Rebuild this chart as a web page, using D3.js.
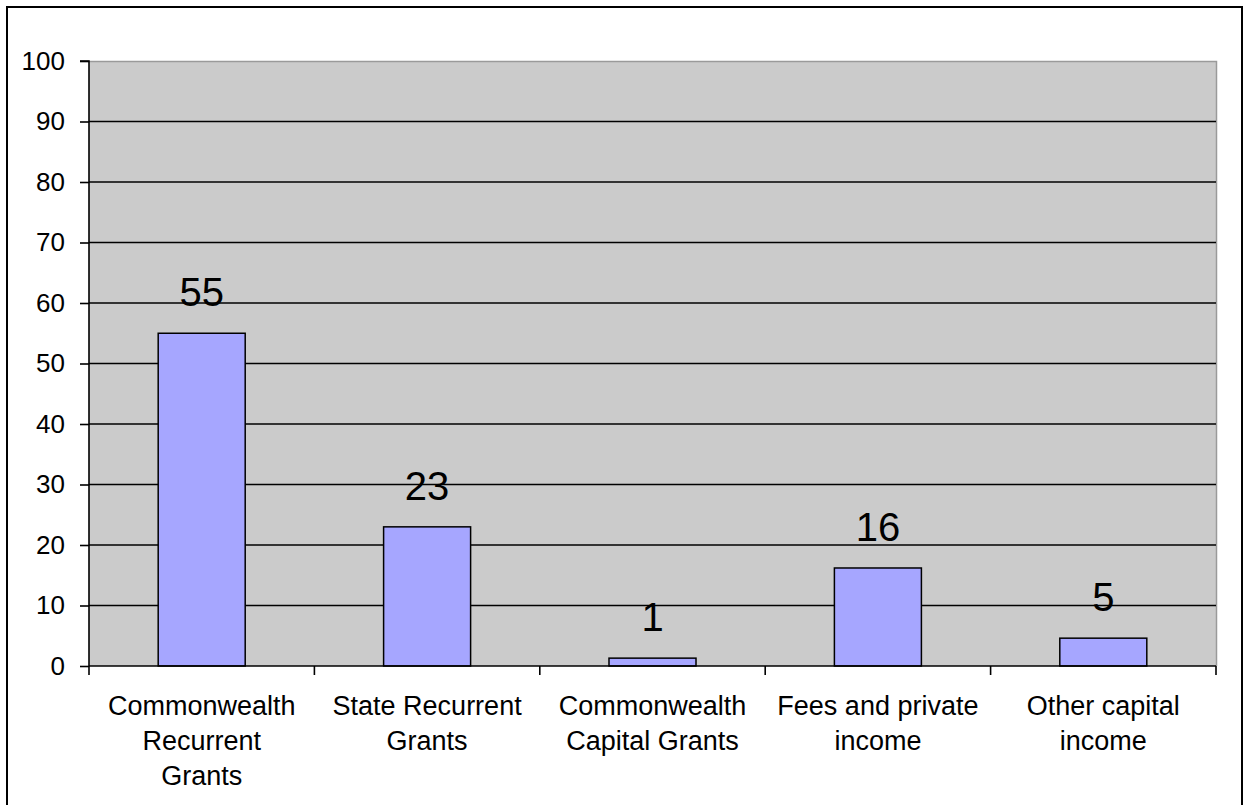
<!DOCTYPE html>
<html>
<head>
<meta charset="utf-8">
<script src="https://cdn.jsdelivr.net/npm/d3@7"></script>
<style>
  html, body { margin: 0; padding: 0; background: #fff; }
  svg { display: block; }
  text { font-family: "Liberation Sans", Arial, sans-serif; fill: #000; }
</style>
</head>
<body>
<svg id="chart" width="1245" height="805"></svg>
<script>
const categories = [
  ["Commonwealth", "Recurrent", "Grants"],
  ["State Recurrent", "Grants"],
  ["Commonwealth", "Capital Grants"],
  ["Fees and private", "income"],
  ["Other capital", "income"]
];
const values = [55, 23, 1.3, 16.2, 4.6];
const valueLabels = ["55", "23", "1", "16", "5"];
const yTicks = [0, 10, 20, 30, 40, 50, 60, 70, 80, 90, 100];

const svg = d3.select("#chart");
const plot = { left: 89, top: 61, right: 1216, bottom: 666 };

// outer frame
svg.append("rect")
  .attr("x", 7).attr("y", 7)
  .attr("width", 1235).attr("height", 810)
  .attr("fill", "#fff").attr("stroke", "#000").attr("stroke-width", 2);

const x = d3.scaleBand()
  .domain(d3.range(categories.length))
  .range([plot.left, plot.right])
  .padding(0);

const y = d3.scaleLinear()
  .domain([0, 100])
  .range([plot.bottom, plot.top]);

// plot background
svg.append("rect")
  .attr("x", plot.left).attr("y", plot.top)
  .attr("width", plot.right - plot.left).attr("height", plot.bottom - plot.top)
  .attr("fill", "#cbcbcb");

// top and right gray border
svg.append("path")
  .attr("d", `M${plot.left},${plot.top + 0.5}H${plot.right + 0.5}V${plot.bottom}`)
  .attr("fill", "none").attr("stroke", "#9a9a9a").attr("stroke-width", 1.5);

// gridlines
svg.append("g")
  .selectAll("line")
  .data(yTicks.filter(t => t > 0 && t < 100))
  .join("line")
  .attr("x1", plot.left).attr("x2", plot.right)
  .attr("y1", d => y(d)).attr("y2", d => y(d))
  .attr("stroke", "#000").attr("stroke-width", 1.6);

// bars
const barRatio = 0.386;
const bw = x.bandwidth() * barRatio;
svg.append("g")
  .selectAll("rect")
  .data(values)
  .join("rect")
  .attr("x", (d, i) => x(i) + (x.bandwidth() - bw) / 2)
  .attr("y", d => y(d))
  .attr("width", bw)
  .attr("height", d => y(0) - y(d))
  .attr("fill", "#a6a6ff")
  .attr("stroke", "#000")
  .attr("stroke-width", 1.5);

// value labels
svg.append("g")
  .selectAll("text")
  .data(values)
  .join("text")
  .attr("x", (d, i) => x(i) + x.bandwidth() / 2)
  .attr("y", d => y(d) - 27)
  .attr("text-anchor", "middle")
  .attr("font-size", 40)
  .text((d, i) => valueLabels[i]);

// y axis
const yAxis = d3.axisLeft(y).tickValues(yTicks).tickSize(9).tickPadding(15);
const gy = svg.append("g")
  .attr("transform", `translate(${plot.left},0)`)
  .call(yAxis);
gy.select(".domain").attr("stroke", "#000").attr("stroke-width", 1.6)
  .attr("d", `M-9,${plot.top}H0V${plot.bottom}`);
gy.selectAll(".tick line").attr("stroke", "#000").attr("stroke-width", 1.6);
gy.selectAll(".tick text")
  .attr("font-size", 26)
  .attr("font-family", '"Liberation Sans", Arial, sans-serif')
  .attr("fill", "#111");

// x axis baseline and ticks at category boundaries
const boundaries = d3.range(categories.length + 1).map(i =>
  i < categories.length ? x(i) : x(categories.length - 1) + x.bandwidth());
svg.append("line")
  .attr("x1", plot.left).attr("x2", plot.right)
  .attr("y1", plot.bottom).attr("y2", plot.bottom)
  .attr("stroke", "#000").attr("stroke-width", 1.6);
svg.append("g")
  .selectAll("line")
  .data(boundaries)
  .join("line")
  .attr("x1", d => d).attr("x2", d => d)
  .attr("y1", plot.bottom).attr("y2", plot.bottom + 9)
  .attr("stroke", "#000").attr("stroke-width", 1.6);

// category labels
const cl = svg.append("g")
  .selectAll("text")
  .data(categories)
  .join("text")
  .attr("text-anchor", "middle")
  .attr("font-size", 27)
  .attr("fill", "#111")
  .attr("transform", (d, i) => `translate(${x(i) + x.bandwidth() / 2},0)`);
cl.selectAll("tspan")
  .data(d => d)
  .join("tspan")
  .attr("x", 0)
  .attr("y", (d, j) => 715 + j * 35)
  .text(d => d);
</script>
</body>
</html>
